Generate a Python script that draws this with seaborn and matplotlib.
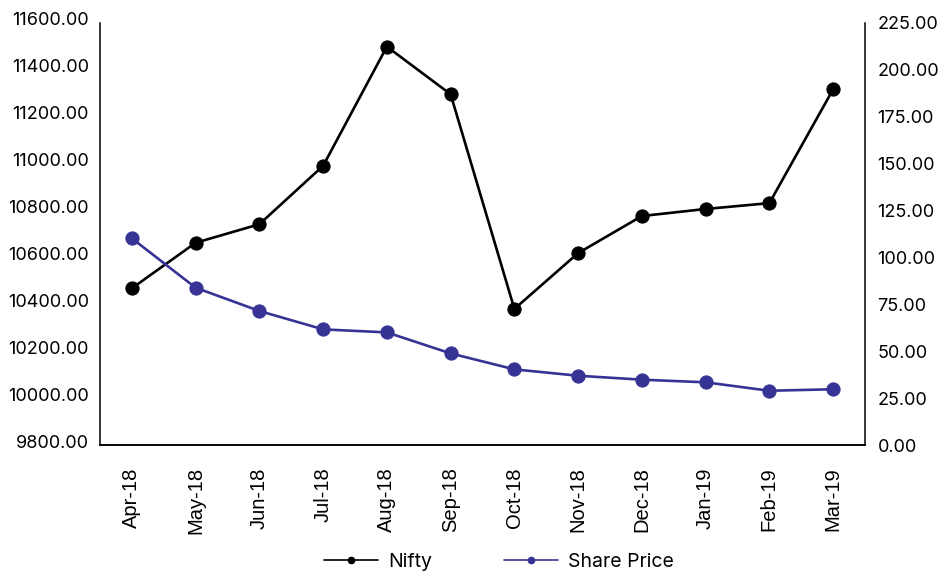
import matplotlib
matplotlib.use("Agg")
import matplotlib.pyplot as plt
import matplotlib.transforms as mtransforms
from matplotlib.lines import Line2D
import seaborn as sns
import pandas as pd

months = ["Apr-18", "May-18", "Jun-18", "Jul-18", "Aug-18", "Sep-18",
          "Oct-18", "Nov-18", "Dec-18", "Jan-19", "Feb-19", "Mar-19"]
nifty = [10468, 10662, 10741, 10990, 11498, 11295,
         10380, 10618, 10776, 10806, 10831, 11316]
share_price = [110.1, 83.8, 71.4, 61.6, 60.0, 48.8,
               40.3, 36.9, 34.8, 33.4, 28.9, 29.7]
left_ticks = [9800, 10000, 10200, 10400, 10600, 10800, 11000, 11200, 11400, 11600]
right_ticks = [0, 25, 50, 75, 100, 125, 150, 175, 200, 225]

BLACK = "#000000"
BLUE = "#363395"

sns.set_style("white")
plt.rcParams["font.family"] = ["Inter", "DejaVu Sans"]

df = pd.DataFrame({"Month": months, "Nifty": nifty, "Share Price": share_price})
df["x"] = range(len(months))

fig = plt.figure(figsize=(9.43, 5.75), dpi=100)
ax = fig.add_axes([100 / 943, 1 - 445 / 575, 765 / 943, (445 - 22.7) / 575])
ax2 = ax.twinx()

sns.lineplot(data=df, x="x", y="Nifty", ax=ax, color=BLACK, marker="o",
             markersize=9.5, linewidth=1.9, markeredgecolor=BLACK, legend=False)
sns.lineplot(data=df, x="x", y="Share Price", ax=ax2, color=BLUE, marker="o",
             markersize=9.5, linewidth=1.9, markeredgecolor=BLUE, legend=False)

ax.set_xlim(-0.5, len(months) - 0.5)
ax.set_ylim(9800, 11600)
ax2.set_ylim(0, 225)
ax.set_xticks(range(len(months)))
ax.set_xticklabels(months, rotation=90, fontsize=14.5)
for lbl in ax.get_xticklabels():
    lbl.set_fontfamily(["Liberation Sans", "DejaVu Sans"])
ax.set_yticks(left_ticks)
ax.set_yticklabels([f"{v:.2f}" for v in left_ticks], fontsize=13)
ax2.set_yticks(right_ticks)
ax2.set_yticklabels([f"{v:.2f}" for v in right_ticks], fontsize=13)
ax.set_xlabel("")
ax.set_ylabel("")
ax2.set_ylabel("")

ax.tick_params(axis="both", length=0, colors=BLACK)
ax.tick_params(axis="y", pad=8)
ax.tick_params(axis="x", pad=16)
ax2.tick_params(axis="y", length=0, pad=9, colors=BLACK)

# left labels sit a little above their ticks in the reference
offset = mtransforms.ScaledTranslation(0, 4 / 100, fig.dpi_scale_trans)
for lbl in ax.get_yticklabels():
    lbl.set_transform(lbl.get_transform() + offset)

for a in (ax, ax2):
    a.grid(False)
    a.spines["top"].set_visible(False)
    for s in ("left", "right", "bottom"):
        a.spines[s].set_color(BLACK)
        a.spines[s].set_linewidth(1.1)
ax.spines["right"].set_visible(False)
ax2.spines["left"].set_visible(False)

handles = [
    Line2D([0], [0], color=BLACK, marker="o", markersize=4.5, linewidth=1.2),
    Line2D([0], [0], color=BLUE, marker="o", markersize=4.5, linewidth=1.2),
]
fig.legend(handles, ["Nifty", "Share Price"], loc="center",
           bbox_to_anchor=(499 / 943, 1 - 562 / 575), ncol=2, frameon=False,
           fontsize=14, handlelength=2.8, columnspacing=3.7, handletextpad=0.5,
           labelcolor=BLACK)

fig.savefig("out.png", dpi=100)
